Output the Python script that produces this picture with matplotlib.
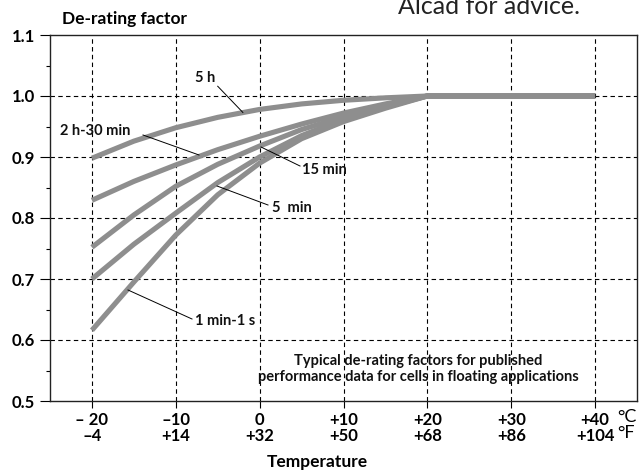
import matplotlib
matplotlib.use("Agg")
from matplotlib import pyplot as plt

# temperature points (deg C) and de-rating factors
temps = [-20, -15, -10, -5, 0, 5, 10, 15, 20, 40]
f_5h = [0.898, 0.926, 0.948, 0.965, 0.978, 0.987, 0.993, 0.997, 1.0, 1.0]
f_2h30 = [0.829, 0.860, 0.887, 0.912, 0.934, 0.954, 0.972, 0.987, 1.0, 1.0]
f_15min = [0.752, 0.805, 0.852, 0.888, 0.918, 0.945, 0.966, 0.985, 1.0, 1.0]
f_5min = [0.700, 0.757, 0.808, 0.858, 0.900, 0.935, 0.962, 0.982, 1.0, 1.0]
f_1min = [0.616, 0.695, 0.772, 0.838, 0.890, 0.930, 0.958, 0.980, 1.0, 1.0]

tick_c = [-20, -10, 0, 10, 20, 30, 40]
tick_labels = ["\u2013 20\n\u20134", "\u201310\n+14", "0\n+32", "+10\n+50",
               "+20\n+68", "+30\n+86", "+40\n+104"]
yticks = [0.5, 0.6, 0.7, 0.8, 0.9, 1.0, 1.1]

W, H = 640, 470
FONT = ["Lato", "DejaVu Sans"]
plt.rcParams['font.family'] = FONT

fig = plt.figure(figsize=(W / 100, H / 100), dpi=100)
ax = fig.add_axes([50 / W, 1 - 401 / H, 587 / W, 366 / H])

def px(x, y):
    return x / W, 1 - y / H

grey = "#8e8e8e"
for f in [f_5h, f_2h30, f_15min, f_5min, f_1min]:
    ax.plot(temps, f, color=grey, lw=3.7, solid_capstyle="butt", solid_joinstyle="round", zorder=3)

ax.set_xlim(-25, 45)
ax.set_ylim(0.5, 1.1)

# dashed grid
for t in tick_c:
    ax.axvline(t, color="black", lw=0.8, ls=(0, (4, 3)), zorder=1)
for v in yticks[1:-1]:
    ax.axhline(v, color="black", lw=0.8, ls=(0, (4, 3)), zorder=1)

for s in ax.spines.values():
    s.set_linewidth(1.0)
    s.set_color("#222222")

ax.set_yticks(yticks)
ax.set_yticklabels(["%.1f" % v for v in yticks], fontsize=12, fontweight="bold")
ax.set_yticks([0.55, 0.65, 0.75, 0.85, 0.95, 1.05], minor=True)
ax.tick_params(axis="y", which="major", length=7, width=0.8, pad=4)
ax.tick_params(axis="y", which="minor", length=3, width=0.8)
ax.set_xticks(tick_c)
ax.set_xticklabels(tick_labels, fontsize=12, fontweight="bold", linespacing=1.0)
ax.tick_params(axis="x", length=5, width=0.8, pad=3)

# curve labels with leader lines
lab = dict(fontsize=10.5, fontweight="bold", color="#111111")
ax.text(-6.5, 1.030, "5 h", ha="center", va="center", **lab)
ax.plot([-5.0, -2.0], [1.016, 0.973], color="black", lw=0.7, zorder=4)
fig.text(*px(60, 131), "2 h-30 min", ha="left", va="center", **lab)
fig.text(*px(302, 170), "15 min", ha="left", va="center", **lab)
fig.text(*px(272, 208), "5  min", ha="left", va="center", **lab)
fig.text(*px(195, 321), "1 min-1 s", ha="left", va="center", **lab)
for (x0, y0), (x1, y1) in [((143, 135), (199, 155)), ((261, 147), (300, 166)),
                           ((217, 186), (268, 205)), ((128, 290), (192, 319))]:
    fig.add_artist(plt.Line2D([x0 / W, x1 / W], [1 - y0 / H, 1 - y1 / H],
                              color="black", lw=0.7))

fig.text(*px(418, 369), "Typical de-rating factors for published\n"
         "performance data for cells in floating applications",
         ha="center", va="center", fontsize=10.5, fontweight="bold",
         linespacing=1.1, color="#111111")

fig.text(*px(62, 19), "De-rating factor", ha="left", va="center",
         fontsize=12.5, fontweight="bold")
fig.text(*px(317, 462), "Temperature", ha="center", va="center",
         fontsize=12.5, fontweight="bold")
fig.text(*px(617, 417), "\u00b0C", ha="left", va="center", fontsize=13)
fig.text(*px(617, 433), "\u00b0F", ha="left", va="center", fontsize=13)
fig.text(*px(398, 7), "Alcad for advice.", ha="left", va="center",
         fontsize=18, color="#222222")

fig.savefig("out.png", dpi=100)
